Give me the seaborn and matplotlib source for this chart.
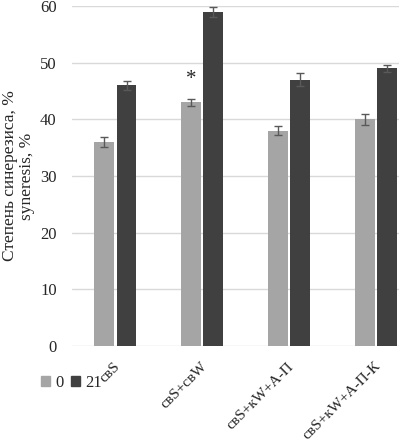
import matplotlib
matplotlib.use("Agg")
import matplotlib.pyplot as plt
import matplotlib.transforms as mtransforms
import seaborn as sns
import pandas as pd
import numpy as np

categories = ["свS", "свS+свW", "свS+кW+А-П", "свS+кW+А-П-К"]
series_names = ["0", "21"]
values_0 = [36, 43, 38, 40]
values_21 = [46, 59, 47, 49]
err_0 = [0.9, 0.6, 0.8, 1.0]
err_21 = [0.8, 0.9, 1.1, 0.6]
y_ticks = [0, 10, 20, 30, 40, 50, 60]

sns.set_theme(style="white")
plt.rcParams["font.family"] = ["Liberation Serif", "DejaVu Serif"]

df = pd.DataFrame({
    "cat": categories * 2,
    "series": [series_names[0]] * 4 + [series_names[1]] * 4,
    "val": values_0 + values_21,
    "err": err_0 + err_21,
})

fig = plt.figure(figsize=(3.99, 4.46), dpi=100)
ax = fig.add_axes([72 / 399, 1 - 346 / 446, 347.5 / 399, 340 / 446])

palette = {"0": "#a5a5a5", "21": "#404040"}
sns.barplot(data=df, x="cat", y="val", hue="series", palette=palette,
            width=0.51, gap=0.1, ax=ax, errorbar=None, saturation=1,
            edgecolor=None, linewidth=0)

# error bars at bar centres
for cont, s in zip(ax.containers, series_names):
    sub = df[df["series"] == s]
    xs = [p.get_x() + p.get_width() / 2 for p in cont.patches]
    ax.errorbar(xs, sub["val"].values, yerr=sub["err"].values, fmt="none",
                ecolor="#595959", elinewidth=1, capsize=3, capthick=1)

# asterisk over 2nd category, series 0
p = ax.containers[0].patches[1]
ax.text(p.get_x() + p.get_width() / 2, values_0[1] + 2.3, "*", ha="center",
        va="bottom", fontsize=15)

ax.set_xlim(-0.5, len(categories) - 0.5)
ax.set_ylim(0, 60)
ax.set_yticks(y_ticks)
ax.set_yticklabels([str(t) for t in y_ticks], fontsize=12)
ax.yaxis.grid(True, color="#d9d9d9", linewidth=1)
ax.set_axisbelow(True)
for sp in ax.spines.values():
    sp.set_visible(False)
ax.tick_params(axis="both", length=0)
ax.tick_params(axis="y", pad=11)
ax.set_xlabel("")
ax.set_ylabel("Степень синерезиса, %\nsyneresis, %", fontsize=12.5, labelpad=4,
              linespacing=1.05)
ax.set_xticks(range(len(categories)))
ax.set_xticklabels(categories, rotation=45, ha="right", rotation_mode="anchor",
                   fontsize=11)
ax.tick_params(axis="x", pad=10)
offset = mtransforms.ScaledTranslation(-1.5 / 72, 0, fig.dpi_scale_trans)
for lbl in ax.get_xticklabels():
    lbl.set_transform(lbl.get_transform() + offset)

ax.get_legend().remove()
handles = [plt.Rectangle((0, 0), 1, 1, color=palette[s]) for s in series_names]
fig.legend(handles, series_names, loc="center left",
           bbox_to_anchor=(41 / 399, 1 - 383 / 446), ncol=2, frameon=False,
           handlelength=0.55, handleheight=0.55, handletextpad=0.3,
           columnspacing=0.45, fontsize=12, borderpad=0, borderaxespad=0)

fig.savefig("out.png", dpi=100)
